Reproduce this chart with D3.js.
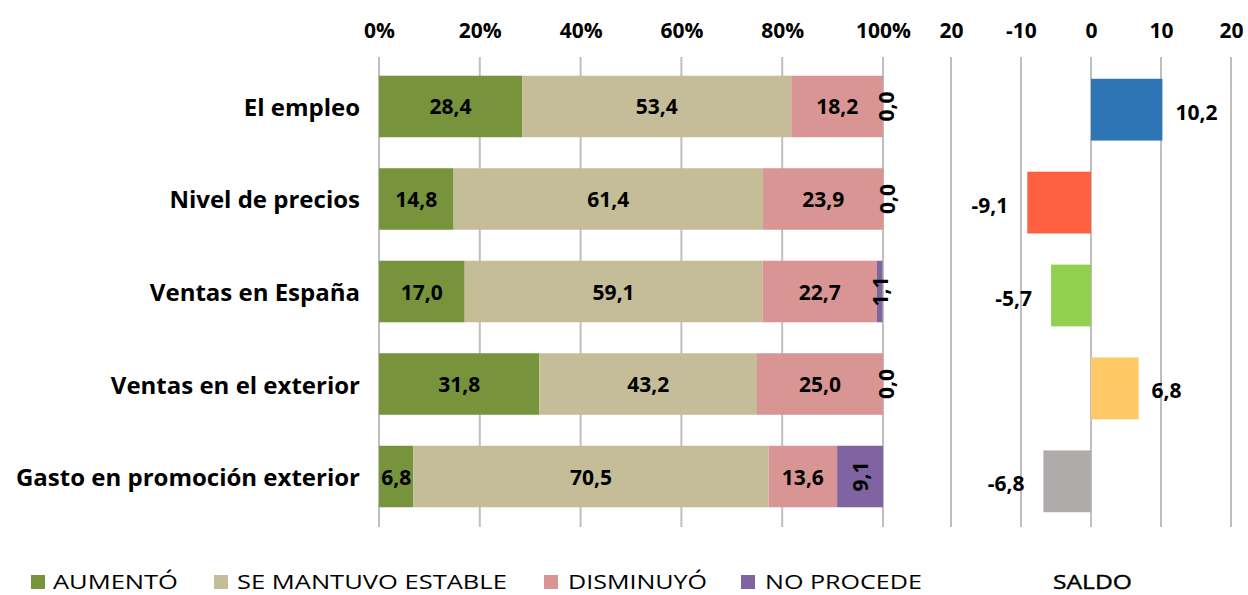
<!DOCTYPE html>
<html><head><meta charset="utf-8">
<script src="https://cdn.jsdelivr.net/npm/d3@7"></script>
<style>body{margin:0;background:#fff}svg{display:block}</style>
</head><body><svg id="c" width="1248" height="595"></svg>
<script>
const categories = ["El empleo","Nivel de precios","Ventas en España","Ventas en el exterior","Gasto en promoción exterior"];
const seriesNames = ["AUMENTÓ","SE MANTUVO ESTABLE","DISMINUYÓ","NO PROCEDE"];
const aumento   = [28.4,14.8,17.0,31.8,6.8];
const estable   = [53.4,61.4,59.1,43.2,70.5];
const disminuyo = [18.2,23.9,22.7,25.0,13.6];
const noProcede = [0.0,0.0,1.1,0.0,9.1];
const saldo     = [10.2,-9.1,-5.7,6.8,-6.8];
const pctTicks  = [0,20,40,60,80,100];
const saldoTicks = [-20,-10,0,10,20];
const saldoTickLabels = ["20","-10","0","10","20"];
const seriesColors = ["#77933C","#C4BD97","#D99594","#8064A2"];
const saldoColors = ["#2E75B6","#FF6040","#92D050","#FFC966","#AFABAB"];

const svg = d3.select("#c");
const FONT = "'Open Sans', sans-serif";
const fmt = v => v.toFixed(1).replace(".", ",");

function fitWidth(sel, x0, target){
  sel.each(function(){
    const w = this.getComputedTextLength();
    const s = target / w;
    const yv = +this.getAttribute("y");
    this.setAttribute("x", 0); this.setAttribute("y", 0);
    this.setAttribute("transform", `translate(${x0},${yv}) scale(${s},1)`);
  });
}

const x = d3.scaleLinear().domain([0,100]).range([379,883]);
const y = d3.scaleBand().domain(categories).range([60,523]).paddingInner(0.335).paddingOuter(0.17);
const yR = d3.scaleBand().domain(categories).range([63,528]).paddingInner(0.335).paddingOuter(0.17);
const xs = d3.scaleLinear().domain([-20,20]).range([951,1231]);

const gridTop = 57, gridBot = 527;
svg.append("g").selectAll("line").data(pctTicks).join("line")
  .attr("x1",d=>x(d)).attr("x2",d=>x(d)).attr("y1",gridTop).attr("y2",gridBot)
  .attr("stroke","#BFBFBF").attr("stroke-width",2);
svg.append("g").selectAll("line").data(saldoTicks).join("line")
  .attr("x1",d=>xs(d)).attr("x2",d=>xs(d)).attr("y1",gridTop).attr("y2",gridBot)
  .attr("stroke","#BFBFBF").attr("stroke-width",2);

const axT = d3.axisTop(x).tickValues(pctTicks).tickFormat(d=>d+"%").tickSize(0).tickPadding(0);
const gA = svg.append("g").attr("transform","translate(0,38)").call(axT);
gA.select(".domain").remove();
gA.selectAll("text").attr("font-family",FONT).attr("font-weight","bold").attr("font-size",21).attr("fill","#000");
const axS = d3.axisTop(xs).tickValues(saldoTicks).tickFormat((d,i)=>saldoTickLabels[i]).tickSize(0).tickPadding(0);
const gS = svg.append("g").attr("transform","translate(0,38)").call(axS);
gS.select(".domain").remove();
gS.selectAll("text").attr("font-family",FONT).attr("font-weight","bold").attr("font-size",21).attr("fill","#000");

const rows = categories.map((c,i)=>({cat:c, a:aumento[i], b:estable[i], c2:disminuyo[i], d:noProcede[i]}));
const stack = d3.stack().keys(["a","b","c2","d"])(rows);
stack.forEach((layer,k)=>{
  const g = svg.append("g");
  g.selectAll("rect").data(layer).join("rect")
    .attr("x",d=>x(d[0])).attr("width",d=>Math.max(0,x(d[1])-x(d[0])))
    .attr("y",d=>y(d.data.cat)).attr("height",y.bandwidth())
    .attr("fill",seriesColors[k]);
  g.selectAll("text").data(layer).join("text")
    .attr("transform",d=>{
      const cx = (x(d[0])+x(d[1]))/2, cy = y(d.data.cat)+y.bandwidth()/2;
      return k===3 ? `translate(${cx+(d[1]-d[0]<0.5?3:0)},${cy}) rotate(-90)` : `translate(${cx},${cy})`;
    })
    .attr("text-anchor","middle").attr("dominant-baseline","central")
    .attr("font-family",FONT).attr("font-weight","bold").attr("font-size",21).attr("fill","#000")
    .text(d=>fmt(d[1]-d[0]));
});

svg.append("g").selectAll("text").data(categories).join("text")
  .attr("x",360).attr("y",d=>y(d)+y.bandwidth()/2)
  .attr("text-anchor","end").attr("dominant-baseline","central")
  .attr("font-family",FONT).attr("font-weight","bold").attr("font-size",24).attr("fill","#000")
  .text(d=>d);

svg.append("g").selectAll("rect").data(saldo).join("rect")
  .attr("x",d=>xs(Math.min(0,d))).attr("width",d=>Math.abs(xs(d)-xs(0)))
  .attr("y",(d,i)=>yR(categories[i])).attr("height",yR.bandwidth())
  .attr("fill",(d,i)=>saldoColors[i]);
svg.append("g").selectAll("text").data(saldo).join("text")
  .attr("x",d=>d>=0 ? xs(d)+13 : xs(d)-19)
  .attr("y",(d,i)=>yR(categories[i])+yR.bandwidth()/2+2)
  .attr("text-anchor",d=>d>=0?"start":"end").attr("dominant-baseline","central")
  .attr("font-family",FONT).attr("font-weight","bold").attr("font-size",21).attr("fill","#000")
  .text(d=>fmt(d));

const legSq = [31,214,544,741], legTx = [53,237,568,765], legW = [125,270,139,157];
const lg = svg.append("g");
seriesNames.forEach((n,i)=>{
  lg.append("rect").attr("x",legSq[i]).attr("y",575).attr("width",14).attr("height",14).attr("fill",seriesColors[i]);
  lg.append("text").attr("x",legTx[i]).attr("y",589)
    .attr("font-family",FONT).attr("font-size",20).attr("fill","#000").text(n)
    .call(fitWidth, legTx[i], legW[i]);
});
lg.append("text").attr("x",1053).attr("y",589)
  .attr("font-family",FONT).attr("font-size",20).attr("fill","#000")
  .attr("stroke","#000").attr("stroke-width",0.4).text("SALDO")
  .call(fitWidth, 1053, 79);
</script></body></html>
